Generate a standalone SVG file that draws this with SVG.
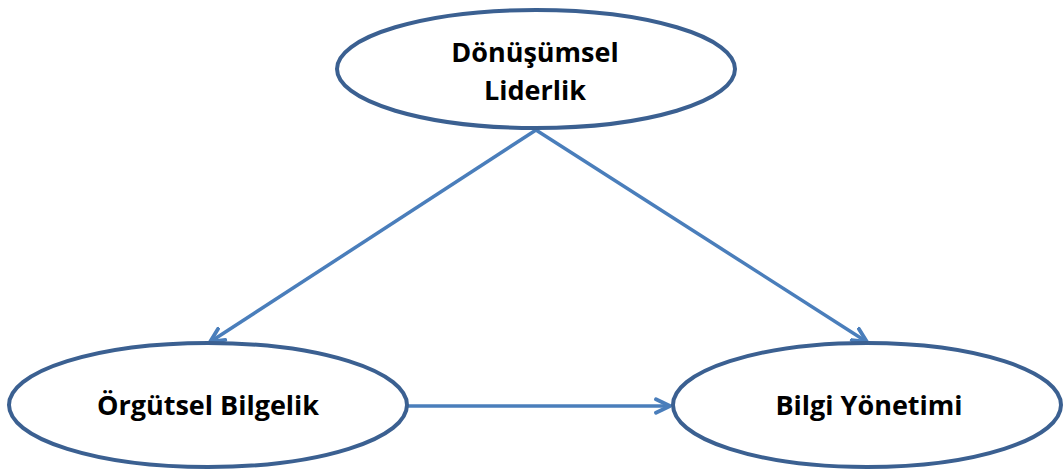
<svg xmlns="http://www.w3.org/2000/svg" width="1064" height="469" viewBox="0 0 1064 469">
  <defs>
    <marker id="arrow" viewBox="0 0 10 10" refX="9" refY="5" markerWidth="5" markerHeight="5" markerUnits="strokeWidth" orient="auto">
      <path d="M1,1.2 L9,5 L1,8.8" fill="none" stroke="#4A7EBB" stroke-width="2.2" stroke-linecap="round" stroke-linejoin="round"/>
    </marker>
  </defs>
  <style>
    .node ellipse { fill: #ffffff; stroke: #3B6091; stroke-width: 4; }
    .node text { font-family: "Open Sans", "Liberation Sans", sans-serif; font-weight: bold; font-size: 27px; fill: #000000; text-anchor: middle; }
    .edge { stroke: #4A7EBB; stroke-width: 3.5; fill: none; marker-end: url(#arrow); }
  </style>
  <rect width="1064" height="469" fill="#ffffff"/>
  <g id="connectors">
    <line class="edge" x1="536" y1="130" x2="210" y2="342"/>
    <line class="edge" x1="536" y1="130" x2="867" y2="342"/>
    <line class="edge" x1="408" y1="406" x2="670" y2="406"/>
  </g>
  <g id="donusumsel-liderlik" class="node">
    <ellipse cx="536" cy="69" rx="199" ry="59"/>
    <text x="535" y="62">Dönüşümsel</text>
    <text x="535" y="100">Liderlik</text>
  </g>
  <g id="orgutsel-bilgelik" class="node">
    <ellipse cx="208" cy="405" rx="199" ry="62"/>
    <text x="208" y="415">Örgütsel Bilgelik</text>
  </g>
  <g id="bilgi-yonetimi" class="node">
    <ellipse cx="867" cy="405" rx="194" ry="62"/>
    <text x="869" y="415">Bilgi Yönetimi</text>
  </g>
</svg>
